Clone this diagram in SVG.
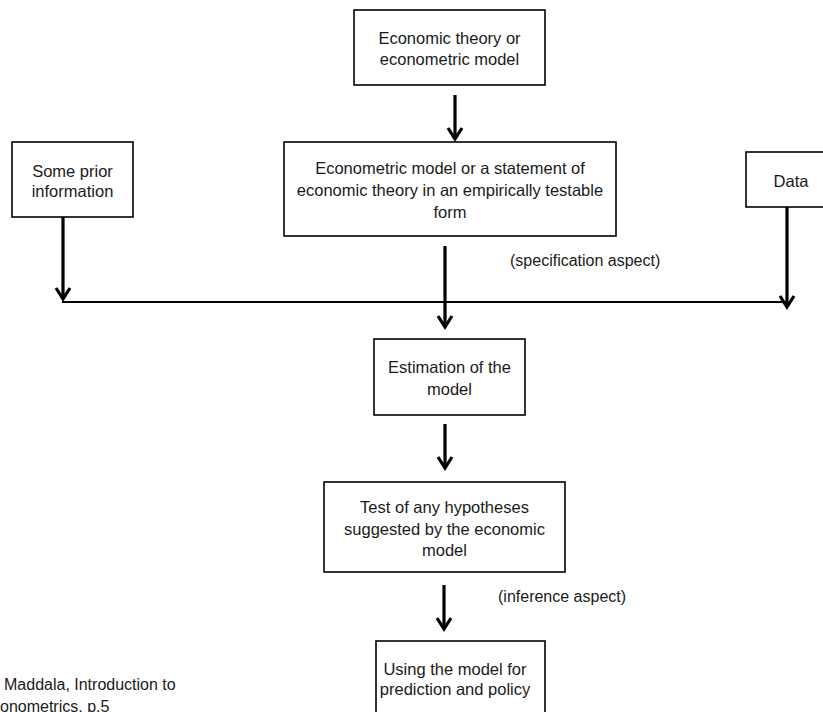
<svg xmlns="http://www.w3.org/2000/svg" width="823" height="712" viewBox="0 0 823 712">
<defs>
<marker id="chev" markerUnits="userSpaceOnUse" markerWidth="16" markerHeight="18" viewBox="0 0 16 18" refX="13" refY="9" orient="auto">
<path d="M2,2 L13,9 L2,16" fill="none" stroke="#000" stroke-width="3.2" stroke-linejoin="miter"/>
</marker>
<style>
.box{fill:#fff;stroke:#000;stroke-width:1.6}
.t{font-family:"Liberation Sans",Arial,sans-serif;font-size:16.5px;fill:#1a1a1a;text-anchor:middle}
.l{font-family:"Liberation Sans",Arial,sans-serif;font-size:16px;fill:#1a1a1a}
.arr{stroke:#000;stroke-width:3.2;fill:none;marker-end:url(#chev)}
.ln{stroke:#000;stroke-width:2;fill:none}
</style>
</defs>
<rect width="823" height="712" fill="#fff"/>
<g id="connectors">
<line class="arr" x1="455" y1="95" x2="455" y2="139"/>
<line class="arr" x1="63" y1="217" x2="63" y2="299"/>
<line class="arr" x1="445" y1="246" x2="445" y2="327"/>
<line class="arr" x1="787" y1="207" x2="787" y2="307"/>
<line class="ln" x1="62" y1="302" x2="787" y2="302"/>
<line class="arr" x1="445" y1="424" x2="445" y2="468"/>
<line class="arr" x1="444" y1="585" x2="444" y2="629"/>
</g>
<g id="n-theory">
<rect class="box" x="354" y="10" width="191" height="75"/>
<text class="t" x="449.5" y="44">Economic theory or</text>
<text class="t" x="449.5" y="65">econometric model</text>
</g>
<g id="n-prior">
<rect class="box" x="12" y="142" width="121" height="75"/>
<text class="t" x="72.5" y="177">Some prior</text>
<text class="t" x="72.5" y="197">information</text>
</g>
<g id="n-model">
<rect class="box" x="284" y="142" width="332" height="94"/>
<text class="t" x="450" y="174">Econometric model or a statement of</text>
<text class="t" x="450" y="196">economic theory in an empirically testable</text>
<text class="t" x="450" y="218">form</text>
</g>
<g id="n-data">
<rect class="box" x="746" y="152" width="100" height="55"/>
<text class="t" x="791" y="187">Data</text>
</g>
<g id="n-estimation">
<rect class="box" x="374" y="339" width="151" height="76"/>
<text class="t" x="449.5" y="373">Estimation of the</text>
<text class="t" x="449.5" y="395">model</text>
</g>
<g id="n-test">
<rect class="box" x="324" y="482" width="241" height="90"/>
<text class="t" x="444.5" y="513">Test of any hypotheses</text>
<text class="t" x="444.5" y="535">suggested by the economic</text>
<text class="t" x="444.5" y="556">model</text>
</g>
<g id="n-use">
<rect class="box" x="376" y="641" width="169" height="90"/>
<text class="t" x="455" y="675">Using the model for</text>
<text class="t" x="455" y="695">prediction and policy</text>
</g>
<g id="labels">
<text class="l" x="510" y="266">(specification aspect)</text>
<text class="l" x="498" y="602">(inference aspect)</text>
<text class="l" x="4" y="690">Maddala, Introduction to</text>
<text class="l" x="0" y="712">onometrics, p.5</text>
</g>
</svg>
